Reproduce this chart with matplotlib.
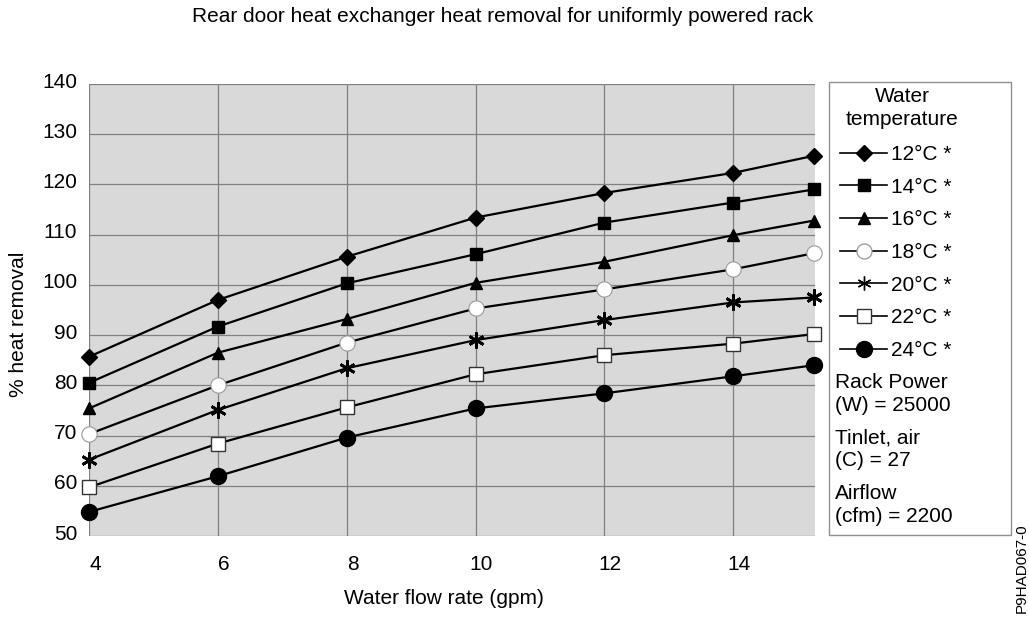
import matplotlib
matplotlib.use("Agg")
import matplotlib.pyplot as plt
from matplotlib.patches import Rectangle
from matplotlib.transforms import ScaledTranslation

plt.rcParams['font.family'] = ['Liberation Sans', 'DejaVu Sans']

flow = [4, 6, 8, 10, 12, 14, 15.25]
labels = ["12°C *", "14°C *", "16°C *", "18°C *", "20°C *", "22°C *", "24°C *"]
t12 = [85.7, 97.0, 105.6, 113.4, 118.3, 122.3, 125.7]
t14 = [80.5, 91.7, 100.3, 106.1, 112.4, 116.4, 119.0]
t16 = [75.4, 86.5, 93.2, 100.4, 104.6, 109.9, 112.8]
t18 = [70.3, 80.0, 88.5, 95.3, 99.1, 103.1, 106.3]
t20 = [65.2, 75.1, 83.4, 89.0, 93.0, 96.5, 97.5]
t22 = [59.7, 68.4, 75.6, 82.2, 86.0, 88.3, 90.2]
t24 = [54.8, 61.9, 69.6, 75.4, 78.4, 81.8, 84.0]
series = [t12, t14, t16, t18, t20, t22, t24]
xticks = [4, 6, 8, 10, 12, 14]
yticks = [50, 60, 70, 80, 90, 100, 110, 120, 130, 140]
legend_title = "Water\ntemperature"
notes = ["Rack Power\n(W) = 25000", "Tinlet, air\n(C) = 27", "Airflow\n(cfm) = 2200"]

styles = [
    dict(marker='D', ms=8.4, mfc='black', mec='black'),
    dict(marker='s', ms=8.4, mfc='black', mec='black'),
    dict(marker='^', ms=8.6, mfc='black', mec='black'),
    dict(marker='o', ms=11, mfc='white', mec='#999999', mew=0.8),
    dict(marker=(6, 2, 0), ms=11.5, mfc='black', mec='black', mew=2.0),
    dict(marker='s', ms=10.2, mfc='white', mec='#333333', mew=1.0),
    dict(marker='o', ms=11.5, mfc='black', mec='black'),
]
leg_ms = [8.0, 8.4, 8.6, 10.8, 10.0, 10.0, 11.5]
leg_mew = [None, None, None, 0.9, 1.0, 1.0, None]

W, H = 1029, 620
fig = plt.figure(figsize=(W / 100, H / 100), dpi=100)
ax = fig.add_axes([89 / W, 1 - 536 / H, (815 - 89) / W, (536 - 84) / H])
ax.set_facecolor('#d9d9d9')
for s in ax.spines.values():
    s.set_visible(False)

handles = []
for vals, lab, st in zip(series, labels, styles):
    h, = ax.plot(flow, vals, color='black', lw=1.6, label=lab, clip_on=False, zorder=3, **st)
    handles.append(h)

ax.set_xlim(4, 15.27)
ax.set_ylim(50, 140)
ax.set_xticks(xticks)
ax.set_yticks(yticks)
ax.grid(True, color='#808080', lw=0.9)
ax.set_axisbelow(True)
ax.tick_params(axis='both', length=0, labelsize=15)
ax.tick_params(axis='x', pad=13.5)
ax.tick_params(axis='y', pad=8.5)
for lab in ax.get_xticklabels():
    lab.set_transform(lab.get_transform() + ScaledTranslation(6 / 100, 0, fig.dpi_scale_trans))
for lab in ax.get_yticklabels():
    lab.set_transform(lab.get_transform() + ScaledTranslation(0, 4 / 100, fig.dpi_scale_trans))

fig.text(444 / W, 1 - 598 / H, "Water flow rate (gpm)", ha='center', va='center', fontsize=15)
fig.text(19 / W, 1 - 324 / H, "% heat removal", ha='center', va='center', rotation=90, fontsize=15)

fig.text(503 / W, 1 - 17 / H, "Rear door heat exchanger heat removal for uniformly powered rack",
         ha='center', va='center', fontsize=15)

# legend box
fig.patches.append(Rectangle((829 / W, 1 - 535 / H), (1011 - 829) / W, (535 - 82) / H,
                             transform=fig.transFigure, fill=False, ec='#909090', lw=1.0))
fig.text(902 / W, 1 - 108 / H, legend_title, ha='center', va='center', fontsize=15,
         linespacing=1.22, multialignment='center')
leg = fig.legend(handles=handles, loc='upper left', bbox_to_anchor=(840 / W, 1 - 145 / H),
                 frameon=False, fontsize=15, handlelength=2.26, handletextpad=0.2,
                 labelspacing=0.655, borderaxespad=0, borderpad=0)
for hd, ms, mw in zip(leg.legend_handles, leg_ms, leg_mew):
    hd.set_markersize(ms)
    if mw is not None:
        hd.set_markeredgewidth(mw)
    hd.set_linewidth(1.2)

ny = [394, 449, 505]
for t, y in zip(notes, ny):
    fig.text(835 / W, 1 - y / H, t, ha='left', va='center', fontsize=15, linespacing=1.22)

fig.text(1022 / W, 1 - 568 / H, "P9HAD067-0", rotation=90, ha='center', va='center', fontsize=11)

fig.savefig("out.png", dpi=100)
